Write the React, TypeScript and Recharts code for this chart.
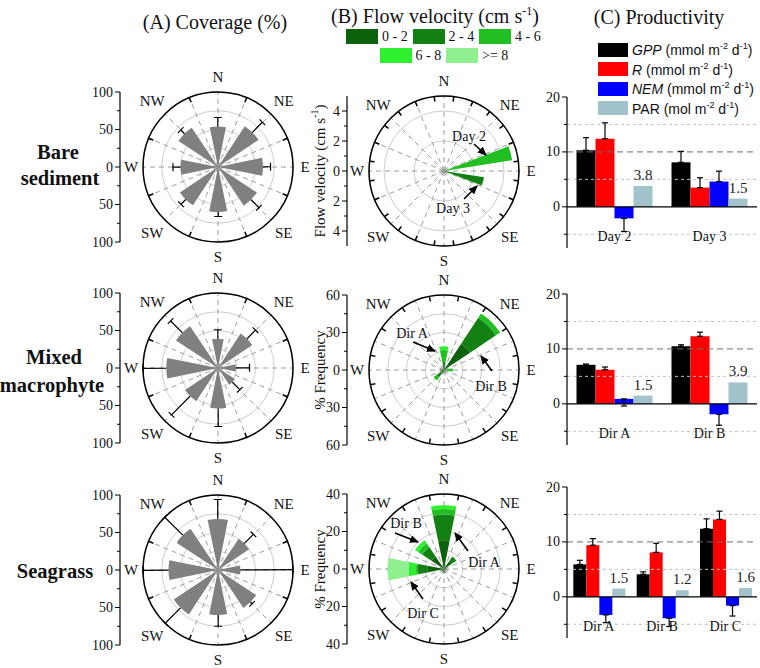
import React from 'react';
import {
  RadialBarChart, RadialBar, PolarAngleAxis, PolarRadiusAxis, PolarGrid, Legend,
  ComposedChart, Line, XAxis, YAxis, BarChart, Bar, ErrorBar, ReferenceLine, LabelList,
} from 'recharts';

const SERIF = '"Liberation Serif", "Times New Roman", serif';
const SANS = '"Liberation Sans", Arial, sans-serif';

// compass sectors
const DIRS8 = ['N', 'NE', 'E', 'SE', 'S', 'SW', 'W', 'NW'];
const DIRS16 = ['N', 'NNE', 'NE', 'ENE', 'E', 'ESE', 'SE', 'SSE', 'S', 'SSW', 'SW', 'WSW', 'W', 'WNW', 'NW', 'NNW'];
const DIRS24 = ['N', '15', '30', 'NE', '60', '75', 'E', '105', '120', 'SE', '150', '165', 'S', '195', '210', 'SW', '240', '255', 'W', '285', '300', 'NW', '330', '345'];

// (A) coverage (%) per direction, mean and error
const bareCover = [54, 65, 60, 62, 60, 61, 50, 63];
const bareCoverErr = [12, 19, 10, 15, 6, 9, 10, 7];
const mixedCover = [39, 55, 24, 27, 54, 53, 69, 67];
const mixedCoverErr = [12, 16, 18, 14, 24, 35, 31, 22];
const seaCover = [68, 50, 30, 61, 60, 71, 66, 66];
const seaCoverErr = [26, 17, 70, 3, 15, 29, 34, 34];

// (B) flow, speed classes
const SPEED_BINS = ['0 - 2', '2 - 4', '4 - 6', '6 - 8', '>= 8'];
const SPEED_KEYS = ['v02', 'v24', 'v46', 'v68', 'v8'];
const SPEED_COLORS = ['#0b620b', '#138013', '#22bf22', '#2ef02e', '#8ff08f'];

// bare sediment: velocity (cm/s) per 15 degree sector
const bareV02 = [0, 0, 0, 0, 0, 0, 0, 0, 0, 0, 0, 0, 0, 0, 0, 0, 0, 0, 0, 0, 0, 0, 0, 0];
const bareV24 = [0, 0, 0, 0, 0, 0, 0, 2.7, 0, 0, 0, 0, 0, 0, 0, 0, 0, 0, 0, 0, 0, 0, 0, 0];
const bareV46 = [0, 0, 0, 0, 0, 4.6, 0, 0, 0, 0, 0, 0, 0, 0, 0, 0, 0, 0, 0, 0, 0, 0, 0, 0];
const bareV68 = [0, 0, 0, 0, 0, 0, 0, 0, 0, 0, 0, 0, 0, 0, 0, 0, 0, 0, 0, 0, 0, 0, 0, 0];
const bareV8 = [0, 0, 0, 0, 0, 0, 0, 0, 0, 0, 0, 0, 0, 0, 0, 0, 0, 0, 0, 0, 0, 0, 0, 0];

// mixed macrophyte: % frequency per 16 sectors
const mixV02 = [3, 0, 25, 0, 0, 0, 0, 0, 2, 0, 3, 0, 2, 0, 0, 0];
const mixV24 = [4, 0, 25, 0, 2, 0, 0, 0, 0, 0, 4, 0, 1, 0, 0, 0];
const mixV46 = [9, 0, 4, 0, 5, 0, 0, 0, 0, 0, 3, 0, 0, 0, 0, 0];
const mixV68 = [3, 0, 0, 0, 0, 0, 0, 0, 0, 0, 0, 0, 0, 0, 0, 0];
const mixV8 = [0, 0, 0, 0, 0, 0, 0, 0, 0, 0, 0, 0, 0, 0, 0, 0];

// seagrass: % frequency per 16 sectors
const seaV02 = [15, 0, 5, 0, 1.5, 0, 0, 0, 2, 0, 1.5, 0, 9, 0, 8, 0];
const seaV24 = [14, 0, 3, 0, 0, 0, 0, 0, 0, 0, 0, 0, 5, 0, 6, 0];
const seaV46 = [3, 0, 0, 0, 0, 0, 0, 0, 0, 0, 0, 0, 1, 0, 2.5, 0];
const seaV68 = [2, 0, 0, 0, 0, 0, 0, 0, 0, 0, 0, 0, 4, 0, 2, 0];
const seaV8 = [0, 0, 0, 0, 0, 0, 0, 0, 0, 0, 0, 0, 11, 0, 0, 0];

// side axis ticks
const coverTicks = [-100, -75, -50, -25, 0, 25, 50, 75, 100];
const coverMajor = [-100, -50, 0, 50, 100];
const velTicks = [-4, -3, -2, -1, 0, 1, 2, 3, 4];
const velMajor = [-4, -2, 0, 2, 4];
const freq60Ticks = [-60, -45, -30, -15, 0, 15, 30, 45, 60];
const freq60Major = [-60, -30, 0, 30, 60];
const freq40Ticks = [-40, -30, -20, -10, 0, 10, 20, 30, 40];
const freq40Major = [-40, -20, 0, 20, 40];

// (C) productivity; errors signed (negative = drawn downward)
const PROD_KEYS = ['gpp', 'r', 'nem', 'par'];
const PROD_NAMES = ['GPP', 'R', 'NEM', 'PAR'];
const PROD_UNITS = ['mmol', 'mmol', 'mmol', 'mol'];
const PROD_COLORS = ['#000000', '#ff0000', '#0000ff', '#a2c3cb'];
const BAR_TICKS = [-5, 0, 5, 10, 15, 20];
const BAR_LABELS = [0, 10, 20];
const GRID_MINOR = [-5, 5, 15];

const DAYS = ['Day 2', 'Day 3'];
const bareGpp = [10.3, 8.1];
const bareGppErr = [2.3, 2.0];
const bareR = [12.4, 3.5];
const bareRErr = [2.9, 1.8];
const bareNem = [-2.1, 4.6];
const bareNemErr = [-2.4, 1.9];
const barePar = [3.8, 1.5];

const DIR_AB = ['Dir A', 'Dir B'];
const mixGpp = [7.1, 10.5];
const mixGppErr = [0.15, 0.25];
const mixR = [6.2, 12.3];
const mixRErr = [0.5, 0.75];
const mixNem = [0.9, -1.9];
const mixNemErr = [-1.3, -2.0];
const mixPar = [1.5, 3.9];

const DIR_ABC = ['Dir A', 'Dir B', 'Dir C'];
const seaGpp = [5.9, 4.1, 12.4];
const seaGppErr = [0.75, 0.45, 1.8];
const seaR = [9.4, 8.1, 14.1];
const seaRErr = [1.2, 1.65, 1.5];
const seaNem = [-3.3, -3.9, -1.6];
const seaNemErr = [-1.4, -1.5, -1.9];
const seaPar = [1.5, 1.2, 1.6];

// arrows + labels on the flow roses
const ANNOTATIONS = [
  { label: 'Day 2', tx: 469, ty: 136, x1: 474, y1: 144, x2: 486, y2: 155 },
  { label: 'Day 3', tx: 453, ty: 208, x1: 464, y1: 199, x2: 477, y2: 186 },
  { label: 'Dir A', tx: 412, ty: 333, x1: 413, y1: 342, x2: 435, y2: 351 },
  { label: 'Dir B', tx: 491, ty: 386, x1: 492, y1: 371, x2: 481, y2: 356 },
  { label: 'Dir B', tx: 406, ty: 523, x1: 395, y1: 533, x2: 418, y2: 542 },
  { label: 'Dir A', tx: 484, ty: 562, x1: 468, y1: 551, x2: 455, y2: 533 },
  { label: 'Dir C', tx: 423, ty: 613, x1: 423, y1: 599, x2: 411, y2: 582 },
];

const coverTable = (vals: number[], errs: number[]) =>
  DIRS8.map((d, i) => ({ dir: d, cover: vals[i], err: errs[i] }));

const flowTable = (dirs: string[], classes: number[][]) =>
  dirs.map((d, i) => {
    const row: any = { dir: d };
    SPEED_KEYS.forEach((k, j) => { row[k] = classes[j][i]; });
    return row;
  });

const prodTable = (cats: string[], gpp: number[], gppErr: number[], r: number[], rErr: number[],
  nem: number[], nemErr: number[], par: number[]) =>
  cats.map((c, i) => ({
    cat: c,
    gpp: gpp[i], gppErr: [0, gppErr[i]],
    r: r[i], rErr: [0, rErr[i]],
    nem: nem[i], nemErr: nemErr[i] < 0 ? [-nemErr[i], 0] : [0, nemErr[i]],
    par: par[i],
  }));

const GRID_ANGLES = DIRS16.map((_, i) => 90 - i * 22.5);
const R0 = 75; // outer radius of every rose

// compass label, only for the 8 main directions.
// the angle axis puts its ticks on the band edge, so shift by half a band
const compassTick = (cx: number, cy: number, half: number) => (props: any) => {
  const { payload } = props;
  if (!DIRS8.includes(payload.value)) return <g />;
  const a = ((payload.coordinate + half) * Math.PI) / 180;
  const k = payload.value.length === 2 ? 93 : payload.value === 'E' || payload.value === 'W' ? 87 : 90;
  return (
    <text x={cx + k * Math.cos(a)} y={cy - k * Math.sin(a)} textAnchor="middle" dominantBaseline="central"
      fontFamily={SERIF} fontSize={15} fill="#111">{payload.value}</text>
  );
};

// radial error whisker drawn on top of the stacked value
const RadialErr = (props: any) => {
  const { cx, cy, innerRadius, outerRadius, startAngle, endAngle } = props;
  if (!(outerRadius - innerRadius > 0.5)) return <g />;
  const a = (-(startAngle + endAngle) / 2) * Math.PI / 180;
  const x1 = cx + innerRadius * Math.cos(a), y1 = cy + innerRadius * Math.sin(a);
  const x2 = cx + outerRadius * Math.cos(a), y2 = cy + outerRadius * Math.sin(a);
  const px = -Math.sin(a) * 4, py = Math.cos(a) * 4;
  return (
    <g stroke="#000" strokeWidth={1.2}>
      <line x1={x1} y1={y1} x2={x2} y2={y2} />
      <line x1={x2 - px} y1={y2 - py} x2={x2 + px} y2={y2 + py} />
    </g>
  );
};

const FlowLegend = () => (
  <div style={{ position: 'relative', width: 220, height: 36, fontFamily: SERIF, fontSize: 14, color: '#111' }}>
    {SPEED_BINS.map((b, i) => {
      const row = i < 3 ? 0 : 1;
      const col = row ? i - 3 : i;
      return (
        <div key={b} style={{ position: 'absolute', left: col * 66.5 + row * 33.5, top: row * 18.5, display: 'flex', alignItems: 'center', height: 15, lineHeight: '15px' }}>
          <span style={{ display: 'inline-block', width: 32, height: 15, background: SPEED_COLORS[i], marginRight: 4 }} />
          <span>{b}</span>
        </div>
      );
    })}
  </div>
);

const ProdLegend = () => (
  <div style={{ fontFamily: SANS, fontSize: 14, color: '#111' }}>
    {PROD_NAMES.map((n, i) => (
      <div key={n} style={{ display: 'flex', alignItems: 'center', height: 19.5, whiteSpace: 'nowrap' }}>
        <span style={{ display: 'inline-block', width: 30, height: 14, background: PROD_COLORS[i], marginRight: 4 }} />
        <span>
          {i < 3 ? <i>{n}</i> : n} ({PROD_UNITS[i]} m<sup style={{ fontSize: 9 }}>-2</sup> d<sup style={{ fontSize: 9 }}>-1</sup>)
        </span>
      </div>
    ))}
  </div>
);

function Rose({ data, keys, colors, dirs, max, gap, errKey, left, top, legend }: any) {
  const step = 360 / dirs.length;
  const start = 90 - step / 2;
  return (
    <div style={{ position: 'absolute', left, top }}>
      <RadialBarChart width={200} height={200} cx={100} cy={100} innerRadius={0} outerRadius={R0}
        data={data} layout="centric" startAngle={start} endAngle={start - 360}
        barCategoryGap={gap} barGap={0} margin={{ top: 0, right: 0, bottom: 0, left: 0 }}>
        <PolarGrid gridType="circle" radialLines={false} stroke="#cdcdcd" />
        <PolarGrid gridType="circle" polarRadius={[]} polarAngles={GRID_ANGLES} stroke="#9c9c9c" strokeDasharray="5 4" />
        <PolarRadiusAxis type="number" domain={[0, max]} tickCount={5} tick={false} axisLine={false} allowDataOverflow />
        <PolarAngleAxis type="category" dataKey="dir" axisLineType="circle" stroke="#000" strokeWidth={1.5}
          tickSize={5} orientation="inner" tick={compassTick(100, 100, step / 2)} />
        {keys.map((k: string, i: number) => (
          <RadialBar key={k} dataKey={k} stackId="s" fill={colors[i]} isAnimationActive={false} legendType="none" />
        ))}
        {errKey && <RadialBar dataKey={errKey} stackId="s" fill="none" shape={RadialErr} isAnimationActive={false} legendType="none" />}
        {legend && (
          <Legend layout="vertical" align="center" verticalAlign="middle" content={<FlowLegend />}
            wrapperStyle={{ position: 'absolute', left: 2, top: -42, width: 220, height: 36 }} />
        )}
      </RadialBarChart>
    </div>
  );
}

const SideTick = ({ x, y, payload, majors }: any) => {
  const major = majors.includes(payload.value);
  return (
    <g>
      <line x1={x} x2={x - (major ? 5 : 3)} y1={y} y2={y} stroke="#000" />
      {major && (
        <text x={x - 7} y={y} textAnchor="end" dominantBaseline="central" fontFamily={SERIF} fontSize={14} fill="#111">
          {Math.abs(payload.value)}
        </text>
      )}
    </g>
  );
};

const AxisTitle = ({ viewBox, children }: any) => {
  const x = viewBox.x + viewBox.width - 27;
  const y = viewBox.y + viewBox.height / 2;
  return (
    <text transform={`rotate(-90 ${x} ${y})`} x={x} y={y} textAnchor="middle" dominantBaseline="central"
      fontFamily={SERIF} fontSize={15} fill="#111">{children}</text>
  );
};

function SideAxis({ max, ticks, majors, axisX, cy, title }: any) {
  return (
    <div style={{ position: 'absolute', left: axisX - 50, top: cy - R0 - 10 }}>
      <ComposedChart width={56} height={2 * R0 + 20} data={[{ v: -max }, { v: max }]}
        margin={{ top: 10, right: 5, bottom: 10, left: 0 }}>
        <XAxis hide />
        <YAxis type="number" domain={[-max, max]} allowDataOverflow ticks={ticks} interval={0} width={50}
          tickSize={0} tickMargin={0} tickLine={false} axisLine={{ stroke: '#000', strokeWidth: 1.2 }}
          tick={<SideTick majors={majors} />}
          label={title ? (p: any) => <AxisTitle viewBox={p.viewBox}>{title}</AxisTitle> : undefined} />
        <Line dataKey="v" stroke="none" dot={false} isAnimationActive={false} />
      </ComposedChart>
    </div>
  );
}

const BarTick = ({ x, y, payload }: any) => {
  const major = BAR_LABELS.includes(payload.value);
  return (
    <g>
      <line x1={x} x2={x - (major ? 5 : 3)} y1={y} y2={y} stroke="#000" />
      {major && (
        <text x={x - 7} y={y} textAnchor="end" dominantBaseline="central" fontFamily={SERIF} fontSize={14} fill="#111">
          {payload.value}
        </text>
      )}
    </g>
  );
};

const CatTick = ({ x, y, payload }: any) => (
  <text x={x} y={y - 7} textAnchor="middle" fontFamily={SERIF} fontSize={14} fill="#111">{payload.value}</text>
);

function ProdBars({ data, top, legend }: any) {
  return (
    <div style={{ position: 'absolute', left: 527, top }}>
      <BarChart width={233} height={160} data={data} margin={{ top: 8, right: 3, bottom: 0, left: 0 }}
        barCategoryGap="10%" barGap={0}>
        <XAxis dataKey="cat" axisLine={false} tickLine={false} tickSize={0} tickMargin={0} height={1} interval={0} tick={<CatTick />} />
        <YAxis type="number" domain={[-7.5, 20]} allowDataOverflow ticks={BAR_TICKS} interval={0} width={40}
          tickSize={0} tickMargin={0} tickLine={false} axisLine={{ stroke: '#000', strokeWidth: 1.2 }} tick={<BarTick />} />
        {GRID_MINOR.map((v) => (
          <ReferenceLine key={v} y={v} stroke="#c2c2c2" strokeDasharray="3 3" />
        ))}
        <ReferenceLine y={10} stroke="#6e6e6e" strokeDasharray="6 4" />
        {PROD_KEYS.map((k, i) => (
          <Bar key={k} dataKey={k} name={PROD_NAMES[i]} fill={PROD_COLORS[i]} isAnimationActive={false}>
            {k !== 'par' && <ErrorBar dataKey={k + 'Err'} width={3} stroke="#000" strokeWidth={1.2} direction="y" />}
            {k === 'par' && (
              <LabelList dataKey="par" position="top" offset={6} fontFamily={SERIF} fontSize={15} fill="#222"
                formatter={(v: any) => Number(v).toFixed(1)} />
            )}
          </Bar>
        ))}
        <ReferenceLine y={0} stroke="#000" strokeWidth={1.2} />
        {legend && (
          <Legend layout="vertical" align="center" verticalAlign="middle" content={<ProdLegend />}
            wrapperStyle={{ position: 'absolute', left: 71, top: -49, width: 170 }} />
        )}
      </BarChart>
    </div>
  );
}

const Title = ({ x, y, children }: any) => (
  <div style={{ position: 'absolute', left: x - 150, top: y - 10, width: 300, textAlign: 'center', fontSize: 20, lineHeight: '20px', whiteSpace: 'nowrap' }}>
    {children}
  </div>
);

const RowLabel = ({ x, y, children }: any) => (
  <div style={{ position: 'absolute', left: x - 60, top: y - 12, width: 120, textAlign: 'center', fontSize: 20.5, fontWeight: 'bold', lineHeight: '24px' }}>
    {children}
  </div>
);

const velTitle = (
  <>Flow velocity (cm s<tspan baselineShift="super" fontSize={10}>-1</tspan>)</>
);

export default function App() {
  const flowCols = [bareV02, bareV24, bareV46, bareV68, bareV8];
  const mixCols = [mixV02, mixV24, mixV46, mixV68, mixV8];
  const seaCols = [seaV02, seaV24, seaV46, seaV68, seaV8];
  return (
    <div style={{ position: 'absolute', left: 0, top: 0, width: 760, height: 668, background: '#fff', fontFamily: SERIF, color: '#111', overflow: 'hidden' }}>
      <Title x={215} y={22}>(A) Coverage (%)</Title>
      <Title x={435} y={16}>(B) Flow velocity (cm s<sup style={{ fontSize: 12, lineHeight: 0 }}>-1</sup>)</Title>
      <Title x={659} y={17}>(C) Productivity</Title>

      <RowLabel x={58} y={152}>Bare</RowLabel>
      <RowLabel x={60} y={178}>sediment</RowLabel>
      <RowLabel x={54} y={357}>Mixed</RowLabel>
      <RowLabel x={52} y={385}>macrophyte</RowLabel>
      <RowLabel x={55} y={571}>Seagrass</RowLabel>

      {/* (A) coverage roses */}
      <SideAxis max={100} ticks={coverTicks} majors={coverMajor} axisX={120} cy={167} />
      <Rose data={coverTable(bareCover, bareCoverErr)} keys={['cover']} colors={['#808080']} dirs={DIRS8} max={100} gap="25%" errKey="err" left={118} top={67} />
      <SideAxis max={100} ticks={coverTicks} majors={coverMajor} axisX={120} cy={368} />
      <Rose data={coverTable(mixedCover, mixedCoverErr)} keys={['cover']} colors={['#808080']} dirs={DIRS8} max={100} gap="25%" errKey="err" left={118} top={268} />
      <SideAxis max={100} ticks={coverTicks} majors={coverMajor} axisX={120} cy={570} />
      <Rose data={coverTable(seaCover, seaCoverErr)} keys={['cover']} colors={['#808080']} dirs={DIRS8} max={100} gap="25%" errKey="err" left={118} top={470} />

      {/* (B) flow roses */}
      <SideAxis max={5} ticks={velTicks} majors={velMajor} axisX={347} cy={171} title={velTitle} />
      <Rose data={flowTable(DIRS24, flowCols)} keys={SPEED_KEYS} colors={SPEED_COLORS} dirs={DIRS24} max={5} gap="10%" left={344} top={71} legend />
      <SideAxis max={60} ticks={freq60Ticks} majors={freq60Major} axisX={347} cy={370} title="% Frequency" />
      <Rose data={flowTable(DIRS16, mixCols)} keys={SPEED_KEYS} colors={SPEED_COLORS} dirs={DIRS16} max={60} gap={0} left={344} top={270} />
      <SideAxis max={40} ticks={freq40Ticks} majors={freq40Major} axisX={347} cy={569} title="% Frequency" />
      <Rose data={flowTable(DIRS16, seaCols)} keys={SPEED_KEYS} colors={SPEED_COLORS} dirs={DIRS16} max={40} gap={0} left={344} top={469} />

      {/* (C) productivity */}
      <ProdBars data={prodTable(DAYS, bareGpp, bareGppErr, bareR, bareRErr, bareNem, bareNemErr, barePar)} top={89} legend />
      <ProdBars data={prodTable(DIR_AB, mixGpp, mixGppErr, mixR, mixRErr, mixNem, mixNemErr, mixPar)} top={286} />
      <ProdBars data={prodTable(DIR_ABC, seaGpp, seaGppErr, seaR, seaRErr, seaNem, seaNemErr, seaPar)} top={479} />

      {/* arrow annotations */}
      <svg width={760} height={668} style={{ position: 'absolute', left: 0, top: 0, pointerEvents: 'none' }}>
        <defs>
          <marker id="ah" markerWidth={9} markerHeight={8} refX={8} refY={4} orient="auto" markerUnits="userSpaceOnUse">
            <path d="M0,0 L9,4 L0,8 z" fill="#000" />
          </marker>
        </defs>
        {ANNOTATIONS.map((a, i) => (
          <g key={i}>
            <line x1={a.x1} y1={a.y1} x2={a.x2} y2={a.y2} stroke="#000" strokeWidth={1.6} markerEnd="url(#ah)" />
            <text x={a.tx} y={a.ty} textAnchor="middle" dominantBaseline="central" fontFamily={SERIF} fontSize={14} fill="#111">{a.label}</text>
          </g>
        ))}
      </svg>
    </div>
  );
}
